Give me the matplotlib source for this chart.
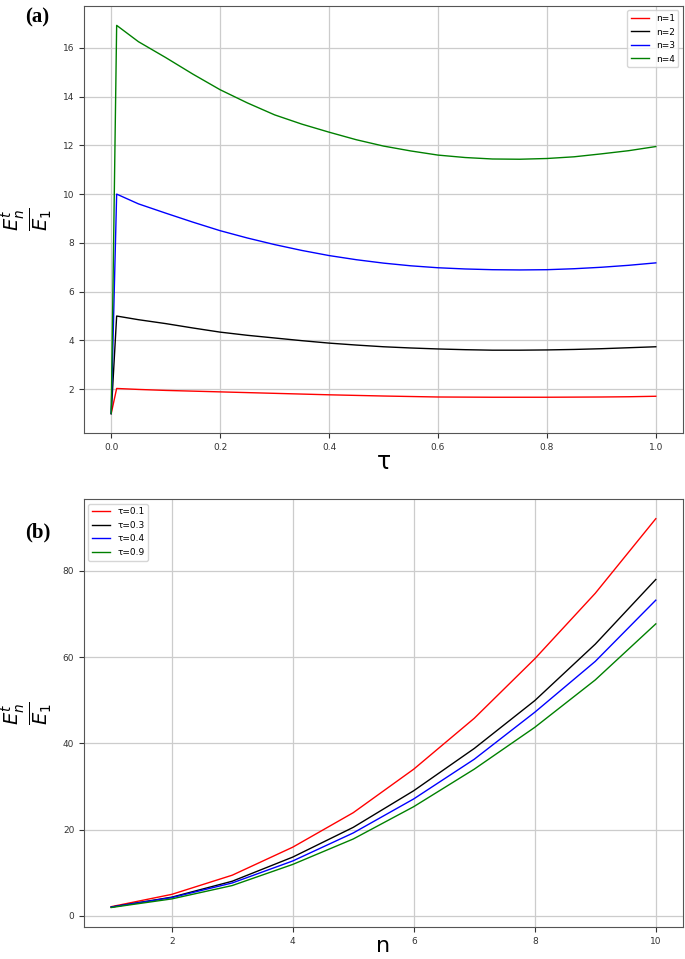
import matplotlib
matplotlib.use("Agg")
import matplotlib.pyplot as plt

# panel (a): ratio vs tau for n = 1..4
tau = [0.0, 0.01, 0.05, 0.1, 0.15, 0.2, 0.25, 0.3, 0.35, 0.4, 0.45, 0.5,
       0.55, 0.6, 0.65, 0.7, 0.75, 0.8, 0.85, 0.9, 0.95, 1.0]
n1 = [1.0, 2.03, 1.99, 1.95, 1.92, 1.89, 1.86, 1.83, 1.80, 1.77, 1.745, 1.72,
      1.70, 1.68, 1.675, 1.67, 1.67, 1.67, 1.675, 1.68, 1.69, 1.71]
n2 = [1.0, 5.0, 4.85, 4.69, 4.51, 4.34, 4.21, 4.10, 3.99, 3.89, 3.81, 3.74,
      3.69, 3.65, 3.62, 3.60, 3.60, 3.61, 3.63, 3.66, 3.70, 3.74]
n3 = [1.0, 10.0, 9.60, 9.22, 8.85, 8.50, 8.20, 7.93, 7.69, 7.48, 7.31, 7.17,
      7.06, 6.98, 6.93, 6.90, 6.89, 6.90, 6.94, 7.00, 7.08, 7.18]
n4 = [1.0, 16.92, 16.25, 15.60, 14.92, 14.28, 13.74, 13.25, 12.87, 12.54, 12.23, 11.97,
      11.77, 11.60, 11.50, 11.44, 11.43, 11.46, 11.53, 11.65, 11.78, 11.95]

# panel (b): ratio vs n for a few tau values
n_vals = [1, 2, 3, 4, 5, 6, 7, 8, 9, 10]
t01 = [2.1, 4.95, 9.4, 15.9, 23.9, 34.0, 45.8, 59.6, 74.8, 92.1]
t03 = [2.0, 4.3, 8.0, 13.6, 20.5, 29.0, 38.8, 49.9, 63.0, 78.0]
t04 = [2.0, 4.2, 7.6, 12.7, 19.2, 27.1, 36.3, 47.2, 59.0, 73.2]
t09 = [1.9, 3.9, 7.0, 11.9, 17.8, 25.3, 34.0, 43.7, 54.7, 67.7]

colors = ["red", "black", "blue", "green"]
ylab = r"$\frac{E_n^t}{E_1}$"

fig = plt.figure(figsize=(6.85, 9.59), dpi=100)
ax1 = fig.add_axes([0.1226, 0.5485, 0.8745, 0.4453])
ax2 = fig.add_axes([0.1226, 0.0334, 0.8745, 0.446])

for ys, c, lab in zip([n1, n2, n3, n4], colors, ["n=1", "n=2", "n=3", "n=4"]):
    ax1.plot(tau, ys, color=c, lw=1.0, label=lab)
ax1.set_xlabel("τ", fontsize=17, labelpad=-1)
ax1.set_ylabel(ylab, fontsize=20)
ax1.legend(loc="upper right", fontsize=6.5)

for ys, c, lab in zip([t01, t03, t04, t09], colors, ["τ=0.1", "τ=0.3", "τ=0.4", "τ=0.9"]):
    ax2.plot(n_vals, ys, color=c, lw=1.0, label=lab)
ax2.set_xlabel("n", fontsize=16, labelpad=-7)
ax2.set_ylabel(ylab, fontsize=20)
ax2.legend(loc="upper left", fontsize=6.5)

for ax in (ax1, ax2):
    ax.grid(True, color="#cccccc", lw=0.9)
    ax.tick_params(labelsize=6.5, colors="#333333")
    ax.yaxis.set_label_coords(-0.05, 0.5)
    for s in ax.spines.values():
        s.set_color("#555555")

fig.text(0.036, 0.977, "(a)", fontsize=15, fontweight="bold", family="Liberation Serif")
fig.text(0.036, 0.44, "(b)", fontsize=15, fontweight="bold", family="Liberation Serif")

fig.savefig("out.png", dpi=100)
